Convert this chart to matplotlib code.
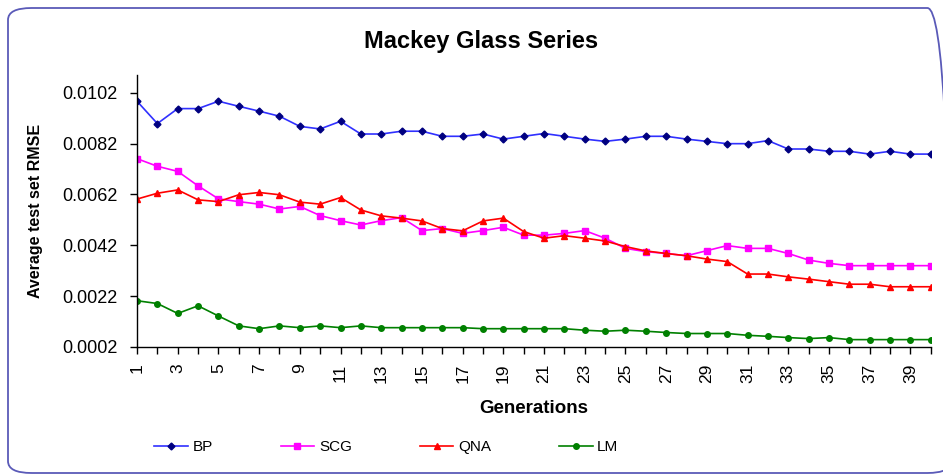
import numpy as np
import matplotlib.pyplot as plt
from matplotlib.patches import FancyBboxPatch

generations = list(range(1, 41))

bp = [0.00987, 0.00899, 0.00958, 0.00958, 0.00987, 0.00967, 0.00948, 0.00928, 0.00888, 0.00878,
      0.00908, 0.00858, 0.00858, 0.00869, 0.00869, 0.00849, 0.00849, 0.00858, 0.00838, 0.00849,
      0.00860, 0.00849, 0.00838, 0.00829, 0.00838, 0.00849, 0.00849, 0.00838, 0.00829, 0.00820,
      0.00820, 0.00832, 0.00799, 0.00799, 0.00790, 0.00790, 0.00779, 0.00790, 0.00779, 0.00779]
scg = [0.00761, 0.00731, 0.00711, 0.00654, 0.00603, 0.00592, 0.00582, 0.00563, 0.00573, 0.00537,
       0.00517, 0.00500, 0.00517, 0.00529, 0.00478, 0.00486, 0.00467, 0.00478, 0.00491, 0.00460,
       0.00460, 0.00467, 0.00478, 0.00448, 0.00408, 0.00395, 0.00388, 0.00379, 0.00399, 0.00419,
       0.00408, 0.00408, 0.00388, 0.00362, 0.00349, 0.00340, 0.00340, 0.00340, 0.00340, 0.00340]
qna = [0.00602, 0.00625, 0.00638, 0.00599, 0.00592, 0.00619, 0.00628, 0.00619, 0.00590, 0.00582,
       0.00608, 0.00559, 0.00536, 0.00527, 0.00516, 0.00486, 0.00477, 0.00516, 0.00527, 0.00474,
       0.00448, 0.00458, 0.00448, 0.00437, 0.00415, 0.00398, 0.00388, 0.00379, 0.00366, 0.00356,
       0.00307, 0.00307, 0.00296, 0.00287, 0.00277, 0.00267, 0.00267, 0.00257, 0.00257, 0.00257]
lm = [0.00202, 0.00191, 0.00152, 0.00182, 0.00142, 0.00103, 0.00092, 0.00103, 0.00096, 0.00103,
      0.00096, 0.00103, 0.00096, 0.00096, 0.00096, 0.00096, 0.00096, 0.00092, 0.00092, 0.00092,
      0.00092, 0.00092, 0.00086, 0.00082, 0.00086, 0.00082, 0.00077, 0.00073, 0.00073, 0.00073,
      0.00066, 0.00062, 0.00057, 0.00053, 0.00057, 0.00049, 0.00049, 0.00049, 0.00049, 0.00049]

yticks = [0.0002, 0.0022, 0.0042, 0.0062, 0.0082, 0.0102]

plt.rcParams['font.family'] = ['Liberation Sans', 'DejaVu Sans']

fig = plt.figure(figsize=(9.43, 4.75), dpi=100)
ax = fig.add_axes([0.1453, 0.2695, 0.8417, 0.5725])

ax.plot(generations, bp, color='#3030ff', lw=1.2, marker='D', ms=3.5,
        mfc='#000080', mec='#000080', label='BP')
ax.plot(generations, scg, color='#ff00ff', lw=1.2, marker='s', ms=4.5,
        mfc='#ff00ff', mec='#ff00ff', label='SCG')
ax.plot(generations, qna, color='#ff0000', lw=1.2, marker='^', ms=5,
        mfc='#ff0000', mec='#ff0000', label='QNA')
ax.plot(generations, lm, color='#008000', lw=1.2, marker='o', ms=4,
        mfc='#008000', mec='#008000', label='LM')

ax.set_xlim(1, 40)
ax.set_ylim(0.0002, 0.0109)
ax.set_xticks(generations)
ax.set_xticklabels([str(g) if g % 2 == 1 else '' for g in generations],
                   rotation=90, fontsize=12.5)
ax.set_yticks(yticks)
ax.set_yticklabels(['%.4f' % v for v in yticks], fontsize=13)
ax.tick_params(axis='y', length=5, pad=9, width=1)
ax.tick_params(axis='x', length=5, pad=7, width=1)
for s in ['top', 'right']:
    ax.spines[s].set_visible(False)
for s in ['left', 'bottom']:
    ax.spines[s].set_linewidth(1)

ax.set_xlabel('Generations', fontsize=13.5, fontweight='bold', labelpad=12)
ax.set_ylabel('Average test set RMSE', fontsize=11.5, fontweight='bold', labelpad=14)
fig.text(0.51, 0.912, 'Mackey Glass Series', fontsize=17, fontweight='bold',
         ha='center', va='center')

fig.legend(loc='center left', bbox_to_anchor=(0.149, 0.058), ncol=4, frameon=False,
           fontsize=11, handlelength=2.2, columnspacing=4.45, handletextpad=0.3)

border = FancyBboxPatch((8 / 943, 2 / 475), 1.0, 1 - 10 / 475,
                        boxstyle='round,pad=0,rounding_size=0.025',
                        transform=fig.transFigure, fill=False,
                        edgecolor='#5a5ab8', lw=1.3, clip_on=False)
fig.patches.append(border)

fig.savefig('out.png', dpi=100)
